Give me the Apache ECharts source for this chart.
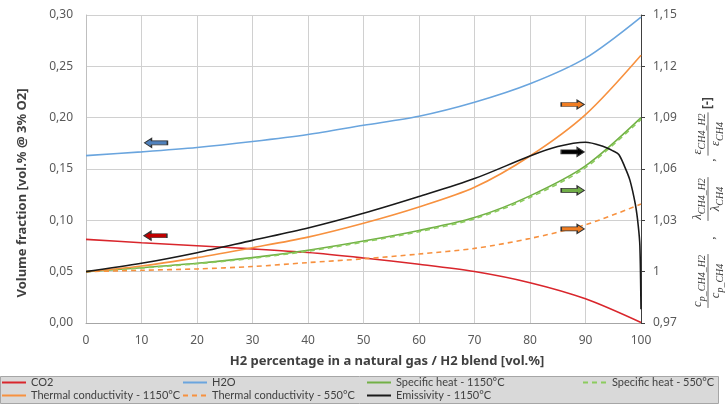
<!DOCTYPE html>
<html>
<head>
<meta charset="utf-8">
<script src="https://cdn.jsdelivr.net/npm/echarts@6/dist/echarts.min.js"></script>
<style>html,body{margin:0;padding:0;background:#fff;}#c{width:727px;height:405px;}</style>
</head>
<body>
<div id="c"></div>
<script>
// ---- data ----
const xMain = [0, 10, 20, 30, 40, 50, 60, 70, 80, 90, 100];
const co2Vals = [0.0815, 0.0782, 0.0752, 0.0722, 0.0686, 0.0633, 0.0573, 0.0502, 0.0393, 0.0236, 0.0005];
const h2oVals = [0.163, 0.1667, 0.171, 0.1768, 0.1836, 0.1926, 0.2014, 0.215, 0.233, 0.258, 0.298];
const sh1150Vals = [1.000, 1.0023, 1.0049, 1.0082, 1.0125, 1.0179, 1.0241, 1.0316, 1.0443, 1.0618, 1.0900];
const sh550Vals = [1.000, 1.0021, 1.0046, 1.0078, 1.0120, 1.0173, 1.0234, 1.0309, 1.0434, 1.0608, 1.0890];
const tc1150Vals = [1.000, 1.0033, 1.0082, 1.0140, 1.0202, 1.0283, 1.0378, 1.0493, 1.0676, 1.0918, 1.1265];
const tc550Vals = [1.000, 1.0008, 1.0016, 1.0030, 1.0053, 1.0075, 1.0103, 1.0136, 1.0194, 1.0274, 1.0395];
const emisX = [0, 10, 20, 30, 40, 50, 60, 70, 80, 85, 90, 93, 95, 96, 97, 98, 99, 99.5, 99.8, 100];
const emisVals = [1.000, 1.0049, 1.0111, 1.0183, 1.0255, 1.0341, 1.0439, 1.0544, 1.0676, 1.0731, 1.0756, 1.0734, 1.0705, 1.0685, 1.0618, 1.0535, 1.039, 1.027, 1.015, 0.978];
const seriesNames = ['CO2', 'H2O', 'Specific heat - 1150°C', 'Specific heat - 550°C',
  'Thermal conductivity - 1150°C', 'Thermal conductivity - 550°C', 'Emissivity - 1150°C'];
// arrow annotations: [x, value] on left axis / right axis
const leftArrows = [[12.6, 0.1755], [12.5, 0.085]];
const rightArrows = [[87.7, 1.0977], [87.7, 1.070], [87.7, 1.0475], [87.7, 1.025]];
const xTitle = 'H2 percentage in a natural gas / H2 blend [vol.%]';
const yTitle = 'Volume fraction [vol.% @ 3% O2]';
const rightNameParts = [
  { sym: 'c', num: 'p_CH4_H2', den: 'p_CH4' },
  { sym: 'λ', num: 'CH4_H2', den: 'CH4' },
  { sym: 'ε', num: 'CH4_H2', den: 'CH4' }
];

// ---- styles / layout ----
const colors = ['#d9262c', '#6aa5de', '#72b046', '#8ccc5e', '#f7913f', '#f7913f', '#1a1a1a'];
const legendLayout = [[1, 377], [182, 377], [366, 377], [582, 377], [1, 390], [182, 390], [366, 390]];
const arrowLeftPath = 'path://M0,4.5 L7,0 L7,2.5 L23,2.5 L23,6.5 L7,6.5 L7,9 Z';
const arrowRightPath = 'path://M23,4.5 L16,0 L16,2.5 L0,2.5 L0,6.5 L16,6.5 L16,9 Z';
const leftArrowColors = ['#4f81bd', '#c00000'];
const rightArrowColors = ['#f07d22', '#000000', '#70ad47', '#f07d22'];

function pairs(xs, ys) { return xs.map((x, i) => [x, ys[i]]); }

const txtColor = '#404040';
const labelColor = '#595959';

const mc = document.createElement('canvas').getContext('2d');
function measure(s, font) { mc.font = font; return mc.measureText(s).width; }
const mainFont = 'italic 13px "Liberation Serif"';
const subFont = 'italic 10px "Liberation Serif"';
const fracCenters = [39, 121, 186];
const commaPos = [82, 160];

const rich = {
  m: { fontFamily: 'Liberation Serif', fontStyle: 'italic', fontSize: 13, fill: txtColor, verticalAlign: 'bottom', padding: [0, 0, 3, 0] },
  s: { fontFamily: 'Liberation Serif', fontStyle: 'italic', fontSize: 10, fill: txtColor, verticalAlign: 'bottom' }
};
const nameChildren = [];
rightNameParts.forEach((p, i) => {
  const cx = fracCenters[i];
  const w = Math.max(measure(p.sym, mainFont) + measure(p.num, subFont), measure(p.sym, mainFont) + measure(p.den, subFont)) + 2;
  nameChildren.push({ type: 'text', x: cx, y: -1, style: { text: '{m|' + p.sym + '}{s|' + p.num + '}', rich: rich, align: 'center', verticalAlign: 'bottom' } });
  nameChildren.push({ type: 'line', shape: { x1: cx - w / 2, y1: 0, x2: cx + w / 2, y2: 0 }, style: { stroke: txtColor, lineWidth: 0.8 } });
  nameChildren.push({ type: 'text', x: cx, y: 1, style: { text: '{m|' + p.sym + '}{s|' + p.den + '}', rich: rich, align: 'center', verticalAlign: 'top' } });
});
commaPos.forEach(cp => {
  nameChildren.push({ type: 'text', x: cp, y: 3, style: { text: ',', font: '13px "Liberation Serif"', fill: txtColor, align: 'center', verticalAlign: 'middle' } });
});
nameChildren.push({ type: 'text', x: 217, y: 0, style: { text: '[-]', font: 'bold 12px "Noto Sans"', fill: txtColor, align: 'center', verticalAlign: 'middle' } });

const seriesData = [
  pairs(xMain, co2Vals), pairs(xMain, h2oVals), pairs(xMain, sh1150Vals), pairs(xMain, sh550Vals),
  pairs(xMain, tc1150Vals), pairs(xMain, tc550Vals), pairs(emisX, emisVals)
];
const yIdx = [0, 0, 1, 1, 1, 1, 1];
const dashed = [false, false, false, true, false, true, false];

const series = seriesNames.map((n, i) => ({
  name: n, type: 'line', data: seriesData[i], yAxisIndex: yIdx[i],
  symbol: 'none', smooth: 0.3,
  lineStyle: { color: colors[i], width: 1.6, type: dashed[i] ? [5, 4] : 'solid' },
  itemStyle: { color: colors[i] },
  z: 3
}));
series[0].markPoint = {
  silent: true, animation: false, label: { show: false },
  data: leftArrows.map((a, i) => ({ coord: a, symbol: arrowLeftPath, symbolSize: [23, 9],
    itemStyle: { color: leftArrowColors[i], borderColor: '#333', borderWidth: 1 } }))
};
series[6].markPoint = {
  silent: true, animation: false, label: { show: false },
  data: rightArrows.map((a, i) => ({ coord: a, symbol: arrowRightPath, symbolSize: [23, 9],
    itemStyle: { color: rightArrowColors[i], borderColor: '#333', borderWidth: 1 } }))
};

const legends = seriesNames.map((n, i) => ({
  data: [n], left: legendLayout[i][0], top: legendLayout[i][1], padding: 0,
  itemWidth: 24, itemHeight: 10, itemGap: 0, selectedMode: false,
  itemStyle: { opacity: 0 },
  textStyle: { fontFamily: 'Lato', fontSize: 11, color: txtColor }
}));

const fmtComma = v => String(+v.toFixed(2)).replace('.', ',');

const chart = echarts.init(document.getElementById('c'), null, { renderer: 'canvas' });
chart.setOption({
  animation: false,
  backgroundColor: '#ffffff',
  grid: { left: 86, right: 86, top: 15, bottom: 82, containLabel: false, outerBoundsMode: 'none' },
  legend: legends,
  xAxis: {
    type: 'value', min: 0, max: 100, interval: 10,
    name: xTitle, nameLocation: 'middle', nameGap: 32,
    nameTextStyle: { fontFamily: 'Noto Sans', fontWeight: 'bold', fontSize: 13, color: txtColor, padding: [0, 0, 0, 47] },
    axisLine: { show: true, lineStyle: { color: '#a6a6a6', width: 1 } },
    axisTick: { show: false },
    axisLabel: { color: labelColor, fontFamily: 'Noto Sans', fontSize: 12, margin: 12 },
    splitLine: { show: true, lineStyle: { color: '#d0d0d0', width: 1 } }
  },
  yAxis: [
    {
      type: 'value', min: 0, max: 0.30, interval: 0.05,
      name: yTitle, nameLocation: 'middle', nameGap: 57, nameRotate: 90,
      nameTextStyle: { fontFamily: 'Noto Sans', fontWeight: 'bold', fontSize: 13, color: txtColor, padding: [0, 48, 0, 0] },
      axisLine: { show: true, lineStyle: { color: '#bfbfbf', width: 1 } },
      axisTick: { show: false },
      axisLabel: { color: labelColor, fontFamily: 'Noto Sans', fontSize: 12, margin: 13, formatter: v => v.toFixed(2).replace('.', ',') },
      splitLine: { show: true, lineStyle: { color: '#d0d0d0', width: 1 } }
    },
    {
      type: 'value', min: 0.97, max: 1.15, alignTicks: true, position: 'right',
      axisLine: { show: true, lineStyle: { color: '#404040', width: 1 } },
      axisTick: { show: true, length: 4, lineStyle: { color: '#404040' } },
      axisLabel: { color: labelColor, fontFamily: 'Noto Sans', fontSize: 12, margin: 12, formatter: fmtComma },
      splitLine: { show: false }
    }
  ],
  graphic: [
    { type: 'rect', shape: { x: 0.5, y: 376.5, width: 718, height: 27 }, style: { fill: '#d9d9d9', stroke: '#a6a6a6', lineWidth: 1 }, z: -10, silent: true },
    { type: 'group', x: 708, y: 320, rotation: Math.PI / 2, children: nameChildren, silent: true }
  ],
  series: series
});
</script>
</body>
</html>
